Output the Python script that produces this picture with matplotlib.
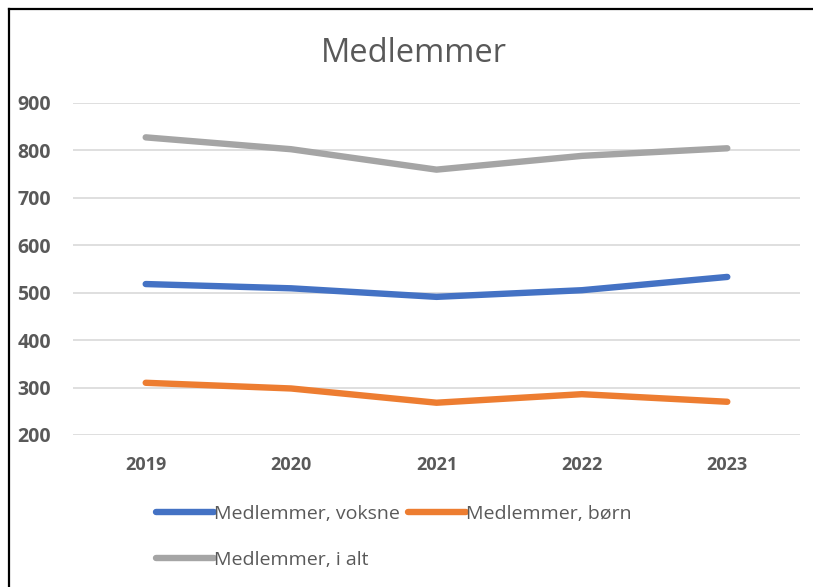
import matplotlib.pyplot as plt
from matplotlib.lines import Line2D

years = ['2019', '2020', '2021', '2022', '2023']
voksne = [518, 509, 491, 505, 533]
boern = [310, 298, 268, 286, 270]
i_alt = [827, 802, 759, 788, 804]
yticks = [200, 300, 400, 500, 600, 700, 800, 900]

blue = '#4472c4'
orange = '#ed7d31'
gray = '#a5a5a5'
txt = '#595959'

plt.rcParams['font.family'] = ['Open Sans', 'DejaVu Sans']

fig = plt.figure(figsize=(8.13, 5.87), dpi=100)
ax = fig.add_axes([73 / 813, 1 - 435 / 587, 727 / 813, (435 - 102.7) / 587])

x = range(len(years))
lw = 4.6
ax.plot(x, voksne, color=blue, lw=lw, solid_capstyle='round', solid_joinstyle='round', zorder=3)
ax.plot(x, boern, color=orange, lw=lw, solid_capstyle='round', solid_joinstyle='round', zorder=3)
ax.plot(x, i_alt, color=gray, lw=lw, solid_capstyle='round', solid_joinstyle='round', zorder=3)

ax.set_xlim(-0.5, len(years) - 0.5)
ax.set_ylim(200, 900)
ax.set_yticks(yticks)
ax.set_xticks(list(x))
ax.set_xticklabels(years)
ax.grid(axis='y', color='#d9d9d9', lw=1.2)
ax.set_axisbelow(True)
for s in ax.spines.values():
    s.set_visible(False)
ax.tick_params(length=0, labelcolor=txt)
ax.tick_params(axis='y', pad=16, labelsize=14)
ax.tick_params(axis='x', pad=15, labelsize=13)
for lab in ax.get_xticklabels() + ax.get_yticklabels():
    lab.set_fontweight('bold')

fig.text(414 / 813, 1 - 53 / 587, 'Medlemmer', ha='center', va='center', fontsize=23.5, color=txt)

# legend
handles = [Line2D([0], [0], color=c, lw=lw, solid_capstyle='round') for c in (blue, orange, gray)]
labels = ['Medlemmer, voksne', 'Medlemmer, børn', 'Medlemmer, i alt']
leg = fig.legend(handles[:2], labels[:2], loc='center left', bbox_to_anchor=(146 / 813, 1 - 514 / 587),
                 ncol=2, frameon=False, fontsize=14, handlelength=3.0, handletextpad=0.0,
                 columnspacing=0.4, borderpad=0)
for t in leg.get_texts():
    t.set_color(txt)
leg2 = fig.legend(handles[2:], labels[2:], loc='center left', bbox_to_anchor=(146 / 813, 1 - 560 / 587),
                  frameon=False, fontsize=14, handlelength=3.0, handletextpad=0.0, borderpad=0)
for t in leg2.get_texts():
    t.set_color(txt)

# outer frame (left and top edges visible)
fig.add_artist(Line2D([8.5 / 813, 8.5 / 813], [0, 1 - 9 / 587], color='black', lw=1.6, transform=fig.transFigure))
fig.add_artist(Line2D([8.5 / 813, 1], [1 - 9 / 587, 1 - 9 / 587], color='black', lw=1.6, transform=fig.transFigure))

fig.savefig('out.png', dpi=100)
